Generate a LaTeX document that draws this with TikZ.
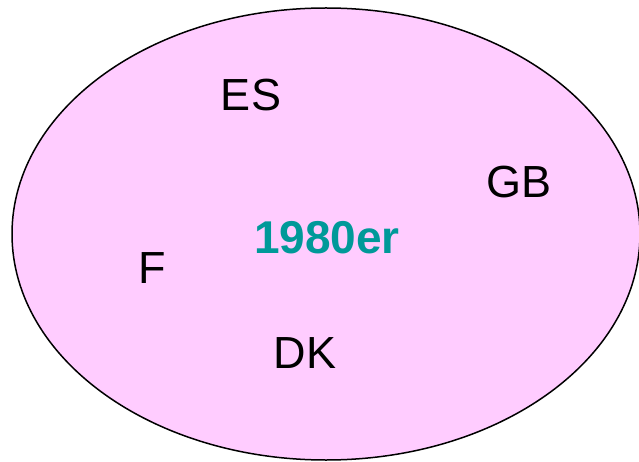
\documentclass[tikz,border=0pt]{standalone}
\usepackage{fontspec}
\setmainfont{Liberation Sans}
\definecolor{setpink}{HTML}{FFCCFF}
\definecolor{decade}{HTML}{009999}
\begin{document}
\begin{tikzpicture}[x=1pt,y=-1pt,
  member/.style={font=\fontsize{45}{48}\selectfont, text=black, inner sep=0pt},
  era/.style={font=\fontsize{46}{50}\selectfont\bfseries, text=decade, inner sep=0pt}]
\useasboundingbox (0,0) rectangle (639,462);
% the set, drawn as one large ellipse
\draw[fill=setpink, line width=1.5pt] (326,234) ellipse [x radius=314, y radius=226];
% members of the set
\node[member] (es) at (251,95) {ES};
\node[member] (gb) at (519,182) {GB};
\node[member] (f)  at (152,268) {F};
\node[member] (dk) at (305,353) {DK};
% label of the period
\node[era] (yr) at (327,238) {1980er};
\end{tikzpicture}
\end{document}
